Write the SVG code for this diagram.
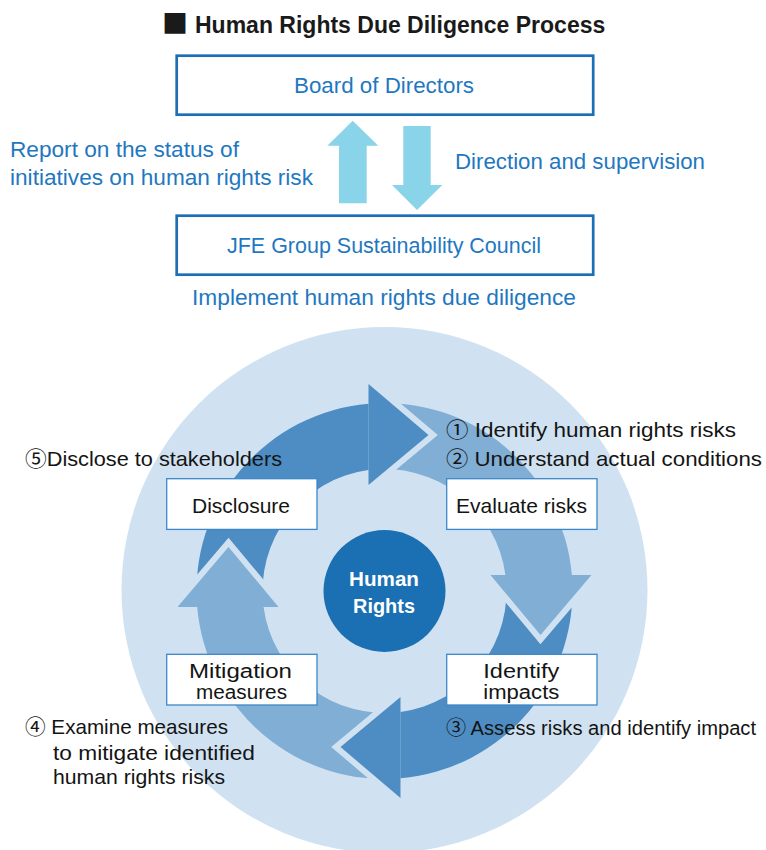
<svg xmlns="http://www.w3.org/2000/svg" width="766" height="850" viewBox="0 0 766 850">
<style>
.t{font-family:"Liberation Sans","Noto Sans CJK JP",sans-serif;font-size:22px}
.s{font-size:21px}
.bx{font-size:19.5px}
.blue{fill:#1f78bf}
.blk{fill:#141414}
.topbox{fill:#fff;stroke:#1c6fb6;stroke-width:2.7}
.cbox{fill:#fff;stroke:#3b87c8;stroke-width:1.3}
.dark{fill:#4d8dc3}
.light{fill:#80aed5}
.gap{fill:none;stroke:#d0e2f1;stroke-width:12;stroke-linejoin:miter;stroke-miterlimit:10}
.sky{fill:#8ad4ea}
</style>
<defs>
<path id="body" d="M -187.32 16 A 188 188 0 0 1 -16 -187.32 L -16 -120.95 A 122 122 0 0 0 -120.95 16 Z"/>
<polyline id="gapline" points="-16,-207 44,-156 -16,-106"/>
<polygon id="head" points="-16,-207 44,-156 -16,-106"/>
</defs>
<rect width="766" height="850" fill="#fff"/>

<g id="title">
<text class="t" y="33" style="font-weight:bold" fill="#1a1a1a"><tspan x="162" style="font-family:'Noto Sans CJK JP',sans-serif;font-size:26px">■</tspan><tspan x="195" style="font-size:23px">Human Rights Due Diligence Process</tspan></text>
</g>

<g id="board">
<rect class="topbox" x="176.7" y="55.7" width="416.5" height="59"/>
<text class="t blue" x="294" y="93" textLength="180" lengthAdjust="spacingAndGlyphs">Board of Directors</text>
</g>

<g id="council">
<rect class="topbox" x="176.7" y="215.7" width="416.5" height="59"/>
<text class="t blue" x="227" y="253" textLength="314" lengthAdjust="spacingAndGlyphs">JFE Group Sustainability Council</text>
</g>

<g id="report-label">
<text class="t blue" x="10" y="157" textLength="229" lengthAdjust="spacingAndGlyphs">Report on the status of</text>
<text class="t blue" x="10" y="185" textLength="303" lengthAdjust="spacingAndGlyphs">initiatives on human rights risk</text>
</g>
<g id="direction-label">
<text class="t blue" x="455" y="169" textLength="250" lengthAdjust="spacingAndGlyphs">Direction and supervision</text>
</g>
<g id="implement-label">
<text class="t blue" x="192" y="305" textLength="384" lengthAdjust="spacingAndGlyphs">Implement human rights due diligence</text>
</g>

<circle id="cycle-background" cx="384.5" cy="590" r="263" fill="#d0e2f1"/>

<g id="connectors">
<polygon class="sky" points="352.7,120.7 378.3,145.7 366.7,145.7 366.7,203.3 339,203.3 339,145.7 327.3,145.7"/>
<polygon class="sky" points="403.3,126 430.7,126 430.7,185 442.3,185 417,210 392,185 403.3,185"/>
<g transform="translate(384.5 591)">
<use href="#body" class="dark"/>
<use href="#body" class="light" transform="rotate(90)"/>
<use href="#body" class="dark" transform="rotate(180)"/>
<use href="#body" class="light" transform="rotate(270)"/>
<use href="#gapline" class="gap"/>
<use href="#head" class="dark"/>
<use href="#gapline" class="gap" transform="rotate(90)"/>
<use href="#head" class="light" transform="rotate(90)"/>
<use href="#gapline" class="gap" transform="rotate(180)"/>
<use href="#head" class="dark" transform="rotate(180)"/>
<use href="#gapline" class="gap" transform="rotate(270)"/>
<use href="#head" class="light" transform="rotate(270)"/>
</g>
</g>

<g id="human-rights">
<circle cx="384.5" cy="591" r="61" fill="#1a70b3"/>
<text class="t" x="349" y="586" fill="#fff" style="font-weight:bold;font-size:21px" textLength="70" lengthAdjust="spacingAndGlyphs">Human</text>
<text class="t" x="353" y="612.5" fill="#fff" style="font-weight:bold;font-size:21px" textLength="62" lengthAdjust="spacingAndGlyphs">Rights</text>
</g>

<g id="disclosure">
<rect class="cbox" x="166.7" y="478.7" width="150.3" height="50.7"/>
<text class="t blk s" x="192" y="512.7" textLength="98" lengthAdjust="spacingAndGlyphs">Disclosure</text>
</g>
<g id="evaluate-risks">
<rect class="cbox" x="446.7" y="478.7" width="150.3" height="50.7"/>
<text class="t blk s" x="456" y="512.7" textLength="131" lengthAdjust="spacingAndGlyphs">Evaluate risks</text>
</g>
<g id="mitigation-measures">
<rect class="cbox" x="166.7" y="654.3" width="150.3" height="50.7"/>
<text class="t blk bx" x="189" y="677.8" textLength="103" lengthAdjust="spacingAndGlyphs">Mitigation</text>
<text class="t blk bx" x="196" y="698.5" textLength="91" lengthAdjust="spacingAndGlyphs">measures</text>
</g>
<g id="identify-impacts">
<rect class="cbox" x="446.7" y="654.3" width="150.3" height="50.7"/>
<text class="t blk bx" x="483.3" y="677.8" textLength="76" lengthAdjust="spacingAndGlyphs">Identify</text>
<text class="t blk bx" x="483.3" y="698.5" textLength="76" lengthAdjust="spacingAndGlyphs">impacts</text>
</g>

<g id="step-labels">
<text class="t blk s" x="446" y="437" textLength="290" lengthAdjust="spacingAndGlyphs">① Identify human rights risks</text>
<text class="t blk s" x="446" y="465.5" textLength="316" lengthAdjust="spacingAndGlyphs">② Understand actual conditions</text>
<text class="t blk s" x="25" y="466" textLength="257" lengthAdjust="spacingAndGlyphs">⑤Disclose to stakeholders</text>
<text class="t blk" x="446" y="735" style="font-size:20px" textLength="310" lengthAdjust="spacingAndGlyphs">③ Assess risks and identify impact</text>
<text class="t blk s" x="25" y="734" textLength="203" lengthAdjust="spacingAndGlyphs">④ Examine measures</text>
<text class="t blk s" x="53" y="760" textLength="202" lengthAdjust="spacingAndGlyphs">to mitigate identified</text>
<text class="t blk s" x="53" y="783.5" textLength="172" lengthAdjust="spacingAndGlyphs">human rights risks</text>
</g>
</svg>
